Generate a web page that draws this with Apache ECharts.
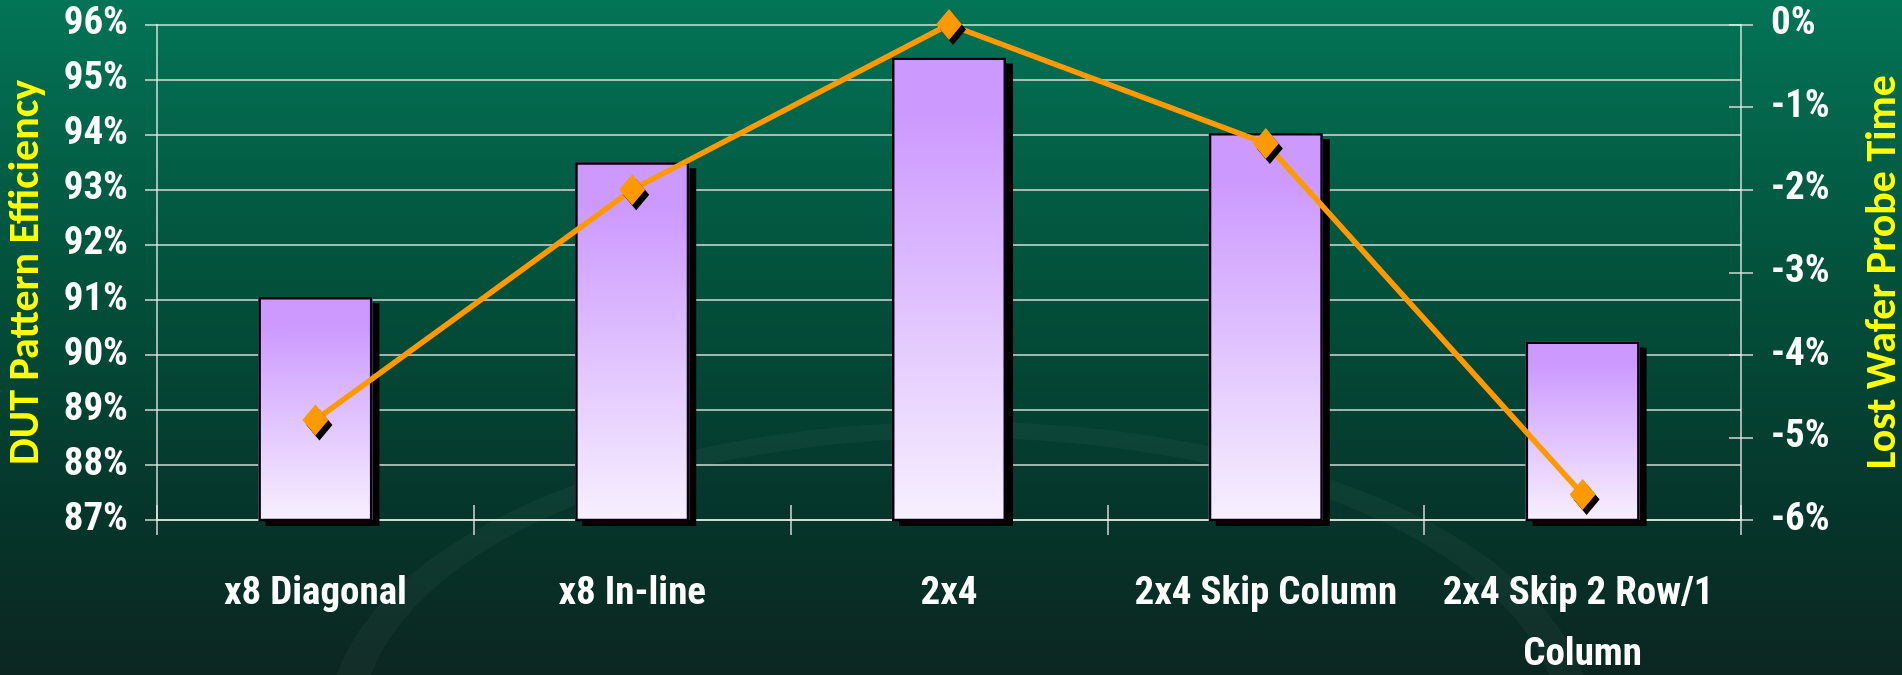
<!DOCTYPE html>
<html>
<head>
<meta charset="utf-8">
<title>DUT Pattern Efficiency vs Lost Wafer Probe Time</title>
<script src="https://cdn.jsdelivr.net/npm/echarts@6/dist/echarts.min.js"></script>
<style>
  html, body { margin: 0; padding: 0; background: #04402f; }
  #chart { width: 1902px; height: 675px; }
</style>
</head>
<body>
<div id="chart"></div>
<script>
// Probe patterns compared on the category axis
const categories = ['x8 Diagonal', 'x8 In-line', '2x4', '2x4 Skip Column', '2x4 Skip 2 Row/1 Column'];
// DUT pattern efficiency, percent (left axis, bars)
const efficiency = [91.05, 93.5, 95.4, 94.03, 90.24];
// Lost wafer probe time, percent (right axis, line)
const lostProbeTime = [-4.79, -2.0, 0, -1.44, -5.69];
// Axis ranges
const effMin = 87, effMax = 96;
const lostMin = -6, lostMax = 0;

const labelFont = "'Roboto Condensed', 'Open Sans Condensed', 'Carlito', sans-serif";
const nameFont = "'Carlito', 'Lato', 'Liberation Sans', sans-serif";
const lineCol = 'rgba(235,235,235,0.9)';

const tickLine = { color: lineCol, width: 1.5 };

const chart = echarts.init(document.getElementById('chart'), null, { renderer: 'canvas' });

const option = {
  animation: false,
  backgroundColor: {
    type: 'linear', x: 0, y: 0, x2: 0, y2: 1,
    colorStops: [
      { offset: 0, color: '#037456' },
      { offset: 0.4, color: '#02523c' },
      { offset: 0.75, color: '#05362b' },
      { offset: 1, color: '#0b2620' }
    ]
  },
  graphic: [
    {
      // faint swoosh ring in the backdrop
      type: 'circle',
      x: 960, y: 725, scaleY: 0.48,
      shape: { cx: 0, cy: 0, r: 615 },
      style: { fill: 'none', stroke: 'rgba(255,255,255,0.035)', lineWidth: 34 },
      z: -10, silent: true
    }
  ],
  grid: { left: 157, right: 161, top: 24.5, bottom: 155, containLabel: false, outerBoundsMode: 'none' },
  xAxis: [
    {
      type: 'category',
      data: categories,
      position: 'bottom',
      axisLine: { show: true, onZero: false, lineStyle: tickLine },
      axisTick: { show: true, inside: false, length: 15, lineStyle: tickLine },
      axisLabel: {
        color: '#ffffff', fontFamily: labelFont, fontWeight: 'bold', fontSize: 39,
        lineHeight: 61, margin: 44, interval: 0, width: 310, overflow: 'break'
      },
      splitLine: { show: false }
    },
    {
      // inner half of the crossing category ticks
      type: 'category',
      data: categories,
      position: 'bottom',
      axisLine: { show: false, onZero: false },
      axisTick: { show: true, inside: true, length: 15, lineStyle: tickLine },
      axisLabel: { show: false },
      splitLine: { show: false }
    }
  ],
  yAxis: [
    {
      type: 'value',
      min: effMin, max: effMax, interval: 1,
      position: 'left',
      name: 'DUT Pattern Efficiency',
      nameLocation: 'middle',
      nameRotate: 90,
      nameGap: 109,
      nameTextStyle: { color: '#ffff00', fontFamily: nameFont, fontWeight: 'bold', fontSize: 42 },
      axisLine: { show: true, onZero: false, lineStyle: tickLine },
      axisTick: { show: true, inside: false, length: 12, lineStyle: tickLine },
      axisLabel: {
        color: '#ffffff', fontFamily: labelFont, fontWeight: 'bold', fontSize: 39,
        margin: 29, formatter: '{value}%'
      },
      splitLine: { show: true, lineStyle: tickLine }
    },
    {
      type: 'value',
      min: lostMin, max: lostMax, interval: 1,
      position: 'right',
      name: 'Lost Wafer Probe Time',
      nameLocation: 'middle',
      nameRotate: 90,
      nameGap: 122,
      nameTextStyle: { color: '#ffff00', fontFamily: nameFont, fontWeight: 'bold', fontSize: 42 },
      axisLine: { show: true, onZero: false, lineStyle: tickLine },
      axisTick: { show: true, inside: false, length: 12, lineStyle: tickLine },
      axisLabel: {
        color: '#ffffff', fontFamily: labelFont, fontWeight: 'bold', fontSize: 39,
        margin: 30, formatter: '{value}%'
      },
      splitLine: { show: false }
    },
    {
      // inner half of the crossing right-hand ticks
      type: 'value',
      min: lostMin, max: lostMax, interval: 1,
      position: 'right',
      axisLine: { show: false, onZero: false },
      axisTick: { show: true, inside: true, length: 12, lineStyle: tickLine },
      axisLabel: { show: false },
      splitLine: { show: false }
    }
  ],
  series: [
    {
      // bar bodies with their drop shadow
      name: 'DUT Pattern Efficiency',
      type: 'bar',
      xAxisIndex: 0,
      yAxisIndex: 0,
      data: efficiency,
      barWidth: '36%',
      barGap: '-100%',
      itemStyle: {
        color: {
          type: 'linear', x: 0, y: 0, x2: 0, y2: 1,
          colorStops: [
            { offset: 0, color: '#cc99ff' },
            { offset: 0.12, color: '#cc99ff' },
            { offset: 1, color: '#f7f0ff' }
          ]
        },
        borderWidth: 0,
        shadowColor: '#000000',
        shadowBlur: 0,
        shadowOffsetX: 7,
        shadowOffsetY: 6
      },
      z: 2
    },
    {
      // black outline of the same bars, without shadow
      name: 'DUT Pattern Efficiency outline',
      type: 'bar',
      xAxisIndex: 0,
      yAxisIndex: 0,
      data: efficiency,
      barWidth: '36%',
      barGap: '-100%',
      itemStyle: {
        color: 'rgba(0,0,0,0)',
        borderColor: '#08000e',
        borderWidth: 2.5
      },
      z: 3
    },
    {
      name: 'Lost Wafer Probe Time',
      type: 'line',
      xAxisIndex: 0,
      yAxisIndex: 1,
      data: lostProbeTime,
      symbol: 'diamond',
      symbolSize: [26, 31],
      lineStyle: { color: '#ff9900', width: 5.5 },
      itemStyle: {
        color: '#ff9900',
        shadowColor: '#000000',
        shadowBlur: 0,
        shadowOffsetX: 4,
        shadowOffsetY: 5
      },
      z: 5
    }
  ]
};

chart.setOption(option);
</script>
</body>
</html>
